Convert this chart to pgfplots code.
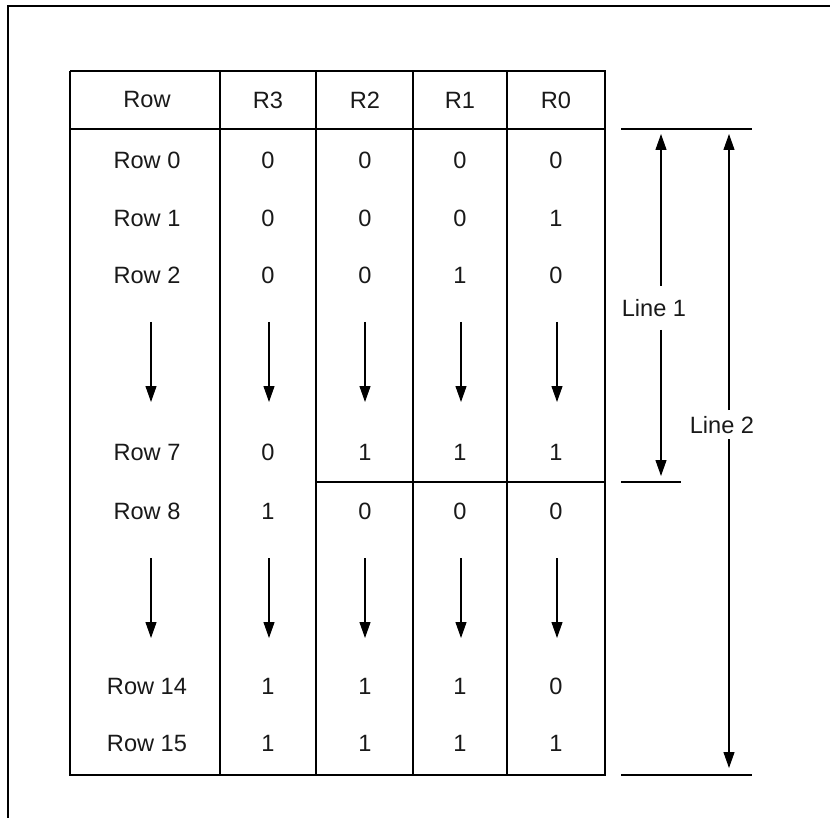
\documentclass[border=0pt]{standalone}
\usepackage{pgfplots}
\pgfplotsset{compat=1.18}
\usepackage{fontspec}
\setmainfont{Liberation Sans}
\usetikzlibrary{arrows.meta}
\begin{document}
\begin{tikzpicture}
\begin{axis}[
  width=415pt, height=409pt, scale only axis,
  xmin=0, xmax=830, ymin=0, ymax=818, y dir=reverse,
  hide axis, clip=false,
  every axis plot/.append style={line width=0.55pt, black},
]
% outer frame (partial)
\addplot[no marks] coordinates {(830,6) (8,6) (8,818)};
% table outline and grid
\addplot[no marks] coordinates {(70,71) (605,71) (605,775) (70,775) (70,71)};
\addplot[no marks] coordinates {(70,129) (605,129)};
\addplot[no marks] coordinates {(316,482) (605,482)};
\addplot[no marks] coordinates {(220,71) (220,775)};
\addplot[no marks] coordinates {(316,71) (316,775)};
\addplot[no marks] coordinates {(413,71) (413,775)};
\addplot[no marks] coordinates {(507,71) (507,775)};
% right side markers
\addplot[no marks] coordinates {(621,129) (752,129)};
\addplot[no marks] coordinates {(621,482) (681,482)};
\addplot[no marks] coordinates {(621,775) (752,775)};
% Line 1 arrow
\addplot[no marks, -{Triangle[length=8pt,width=5.5pt]}] coordinates {(661,286) (661,134)};
\addplot[no marks, -{Triangle[length=8pt,width=5.5pt]}] coordinates {(661,330) (661,476)};
% Line 2 arrow
\addplot[no marks, -{Triangle[length=8pt,width=5.5pt]}] coordinates {(729,410) (729,134)};
\addplot[no marks, -{Triangle[length=8pt,width=5.5pt]}] coordinates {(729,439) (729,768)};
% column arrows
\foreach \cx in {151,269,365,461,557} {
  \edef\tmp{\noexpand\addplot[no marks, -{Triangle[length=8pt,width=5.5pt]}] coordinates {(\cx,322) (\cx,402)};
  \noexpand\addplot[no marks, -{Triangle[length=8pt,width=5.5pt]}] coordinates {(\cx,558) (\cx,638)};}
  \tmp
}
% text cells
\addplot[only marks, mark=none, nodes near coords, point meta=explicit symbolic,
  nodes near coords style={anchor=center, font=\fontsize{11.8}{14}\selectfont, text=black!90}]
  table[col sep=comma, meta=t] {
x,y,t
147,100,Row
268,100,R3
365,100,R2
460,100,R1
556,100,R0
147,160,Row 0
268,160,0
365,160,0
460,160,0
556,160,0
147,218,Row 1
268,218,0
365,218,0
460,218,0
556,218,1
147,275,Row 2
268,275,0
365,275,0
460,275,1
556,275,0
147,452,Row 7
268,452,0
365,452,1
460,452,1
556,452,1
147,511,Row 8
268,511,1
365,511,0
460,511,0
556,511,0
147,686,Row 14
268,686,1
365,686,1
460,686,1
556,686,0
147,743,Row 15
268,743,1
365,743,1
460,743,1
556,743,1
654,308,Line 1
722,425,Line 2
};
\end{axis}
\pgfresetboundingbox
\path (current axis.south west) rectangle (current axis.north east);
\end{tikzpicture}
\end{document}
